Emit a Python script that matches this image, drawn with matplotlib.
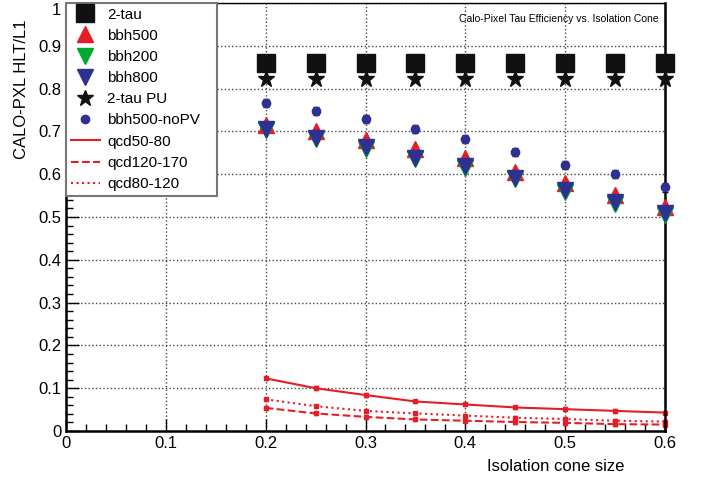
import numpy as np
import matplotlib.pyplot as plt
from matplotlib.ticker import MultipleLocator

plt.rcParams['font.family'] = ['Liberation Sans Narrow', 'Liberation Sans', 'DejaVu Sans']

# 数据
cone = [0.2, 0.25, 0.3, 0.35, 0.4, 0.45, 0.5, 0.55, 0.6]
tau2 = [0.859, 0.859, 0.859, 0.859, 0.859, 0.859, 0.859, 0.859, 0.859]
tau2_pu = [0.822, 0.822, 0.822, 0.822, 0.822, 0.822, 0.822, 0.822, 0.822]
bbh500 = [0.715, 0.700, 0.681, 0.660, 0.637, 0.606, 0.579, 0.551, 0.524]
bbh200 = [0.703, 0.682, 0.660, 0.635, 0.615, 0.588, 0.558, 0.530, 0.505]
bbh800 = [0.705, 0.684, 0.663, 0.639, 0.618, 0.592, 0.563, 0.536, 0.509]
bbh500_nopv = [0.766, 0.748, 0.729, 0.706, 0.682, 0.652, 0.622, 0.600, 0.569]
qcd50_80 = [0.123, 0.100, 0.084, 0.069, 0.062, 0.055, 0.051, 0.047, 0.043]
qcd120_170 = [0.054, 0.041, 0.033, 0.027, 0.024, 0.021, 0.019, 0.016, 0.015]
qcd80_120 = [0.074, 0.058, 0.047, 0.041, 0.036, 0.031, 0.028, 0.024, 0.022]
x_ticks = [0, 0.1, 0.2, 0.3, 0.4, 0.5, 0.6]
x_labels = ['0', '0.1', '0.2', '0.3', '0.4', '0.5', '0.6']
y_ticks = [0, 0.1, 0.2, 0.3, 0.4, 0.5, 0.6, 0.7, 0.8, 0.9, 1]
y_labels = ['0', '0.1', '0.2', '0.3', '0.4', '0.5', '0.6', '0.7', '0.8', '0.9', '1']

red = '#e41e26'
green = '#00a832'
blue = '#2e3192'

fig = plt.figure(figsize=(7.07, 4.84), dpi=100)
ax = fig.add_axes([0.0934, 0.1095, 0.8472, 0.8843])

# 点
ax.plot(cone, tau2, 's', color='#111111', ms=12.5, label='2-tau', clip_on=False, zorder=3)
ax.plot(cone, bbh500, '^', color=red, ms=12, label='bbh500', clip_on=False, zorder=3)
ax.plot(cone, bbh200, 'v', color=green, ms=12, label='bbh200', clip_on=False, zorder=3)
ax.plot(cone, bbh800, 'v', color=blue, ms=12, label='bbh800', clip_on=False, zorder=4)
ax.plot(cone, tau2_pu, '*', color='#111111', ms=12, label='2-tau PU', clip_on=False, zorder=3)
ax.errorbar(cone, bbh500_nopv, yerr=0.01, fmt='none', ecolor='#111111',
            elinewidth=1, capsize=2, clip_on=False, zorder=5)
ax.plot(cone, bbh500_nopv, 'o', color=blue, ms=6, label='bbh500-noPV', clip_on=False, zorder=5)

# qcd 曲线
for vals, ls, lab, err in [(qcd50_80, '-', 'qcd50-80', 0.004),
                           (qcd120_170, '--', 'qcd120-170', 0.004),
                           (qcd80_120, ':', 'qcd80-120', 0.003)]:
    ax.errorbar(cone, vals, yerr=err, fmt='none', ecolor=red, elinewidth=1.2,
                capsize=1.5, clip_on=False)
    ax.plot(cone, vals, ls, color=red, lw=1.5, label=lab, clip_on=False)
    ax.plot(cone, vals, 's', color=red, ms=3, clip_on=False)

# 坐标轴
ax.set_xlim(0, 0.6)
ax.set_ylim(0, 1)
ax.set_xticks(x_ticks, x_labels)
ax.set_yticks(y_ticks, y_labels)
ax.xaxis.set_minor_locator(MultipleLocator(0.02))
ax.yaxis.set_minor_locator(MultipleLocator(0.02))
ax.tick_params(which='both', direction='in', labelsize=12, width=1)
ax.tick_params(which='major', length=9)
ax.tick_params(which='minor', length=5)
ax.get_yticklabels()[-1].set_va('top')
for s in ax.spines.values():
    s.set_linewidth(1.8)
ax.spines['top'].set_linewidth(1)
ax.grid(True, linestyle=':', color='#444444', lw=1)

ax.set_xlabel('Isolation cone size', fontsize=12, ha='right')
ax.xaxis.set_label_coords(0.933, -0.065)
ax.set_ylabel('CALO-PXL HLT/L1', fontsize=12, ha='right')
ax.yaxis.set_label_coords(-0.062, 0.962)
ax.text(0.99, 0.975, 'Calo-Pixel Tau Efficiency vs. Isolation Cone', transform=ax.transAxes,
        ha='right', va='top', fontsize=7.5)

leg = ax.legend(loc='upper left', bbox_to_anchor=(0, 0, 0.252, 1), mode='expand',
                borderaxespad=0, fancybox=False,
                framealpha=1, edgecolor='#777777', fontsize=11, handlelength=1.9,
                handletextpad=0.5, labelspacing=0.47, borderpad=0.3)
leg.get_frame().set_linewidth(1.5)

fig.savefig('out.png', dpi=100)
